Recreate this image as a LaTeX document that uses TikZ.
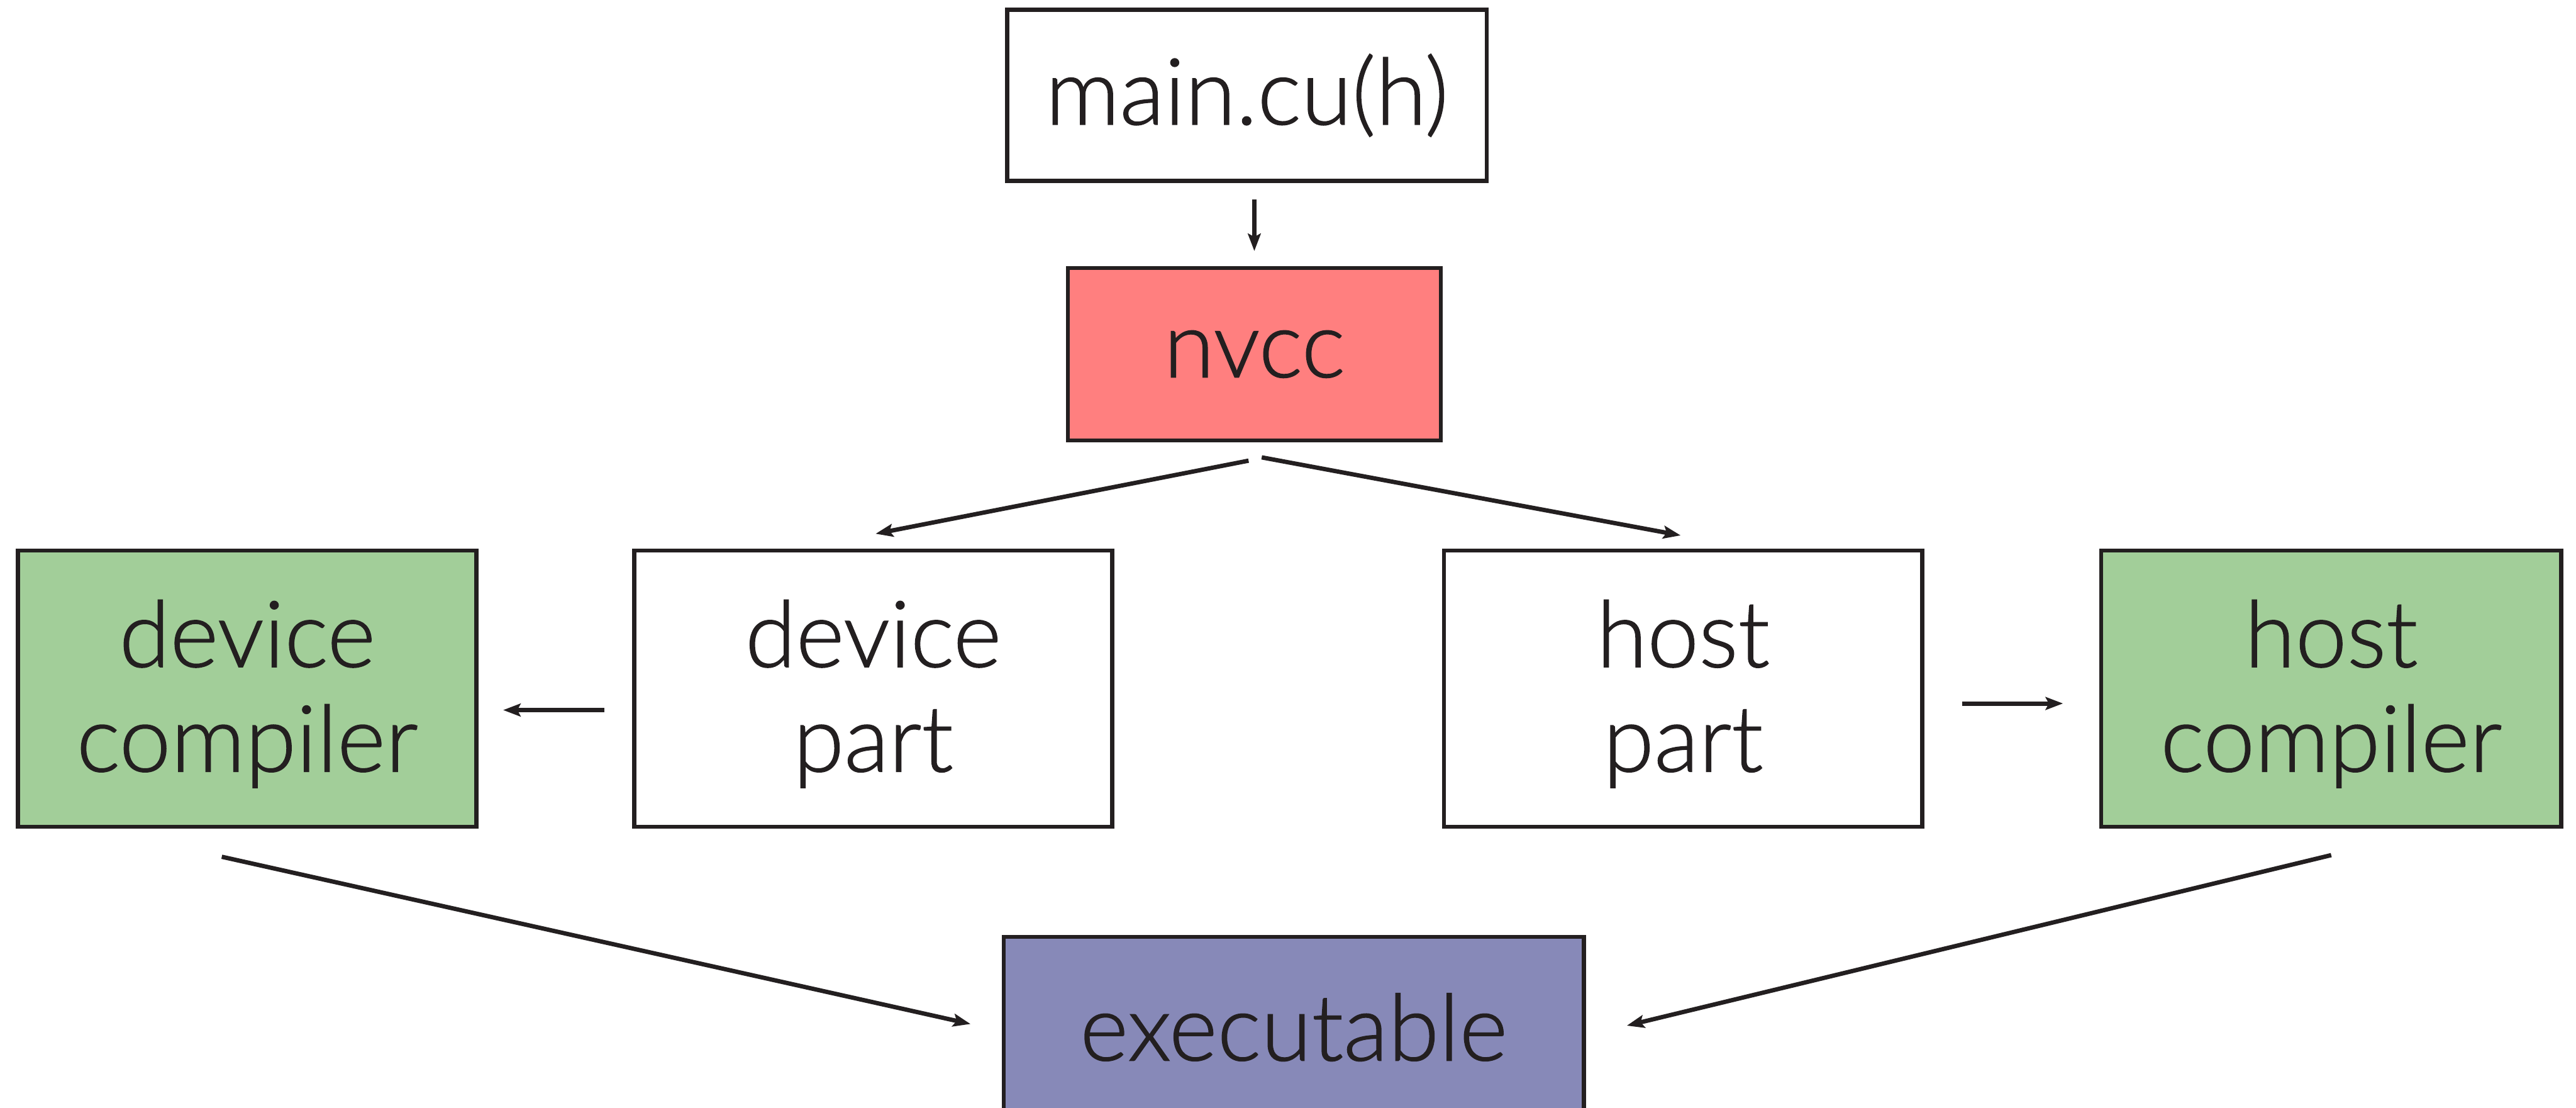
\documentclass[tikz,border=0pt]{standalone}
\usepackage{fontspec}
\setmainfont{Lato}[UprightFont={* Light}, UprightFeatures={FakeBold=1}]
\usetikzlibrary{arrows.meta}
\definecolor{ink}{HTML}{231F20}
\definecolor{nvred}{HTML}{FF7F7F}
\definecolor{compgreen}{HTML}{A2CE99}
\definecolor{exepurple}{HTML}{8789B8}
% two centred lines, set a little below the middle of their box
\newcommand\twolines[2]{\raisebox{-0.59mm}[\height][\depth]{\begin{tabular}{@{}c@{}}#1\\#2\end{tabular}}}
\begin{document}
\begin{tikzpicture}[x=0.1mm,y=-0.1mm,
  box/.style={draw=ink, line width=0.72pt, rectangle, inner sep=0pt, align=center,
    font=\fontsize{16}{18.1}\selectfont, text=ink},
  tallbox/.style={box, minimum width=29.1mm, minimum height=16.8mm},
  flow/.style={draw=ink, line width=0.75pt, -{Stealth[length=1.06mm,width=0.78mm,inset=0.2mm]}}]
\useasboundingbox (0,0) rectangle (1568,674);

% source and compiler driver
\node[box, minimum width=29.2mm, minimum height=10.4mm] (main) at (759,58) {main.cu(h)};
\node[box, fill=nvred, minimum width=22.7mm, minimum height=10.5mm] (nvcc) at (763.5,215.5) {nvcc};

% split parts and their compilers
\node[tallbox, fill=compgreen, minimum width=27.9mm] (dcomp) at (150.5,419) {\twolines{device}{compiler}};
\node[tallbox] (dpart) at (531.5,419) {\twolines{device}{part}};
\node[tallbox] (hpart) at (1024.5,419) {\twolines{host}{part}};
\node[tallbox, fill=compgreen, minimum width=28mm] (hcomp) at (1419,419) {\twolines{host}{compiler}};

% final product
\node[box, fill=exepurple, minimum width=35.3mm, minimum height=11mm] (exe) at (787.5,625) {executable};

% connectors, each leaving a small gap at both boxes
\draw[flow] ([shift={(4.5,10)}]main.south) -- ([shift={(0,-9)}]nvcc.north);
\draw[flow] ([shift={(-3.5,11)}]nvcc.south) -- ([shift={(1.5,-9)}]dpart.north);
\draw[flow] ([shift={(4.5,9)}]nvcc.south) -- ([shift={(-1.5,-8)}]hpart.north);
\draw[flow] ([shift={(-17,13)}]dpart.west) -- ([shift={(15,13)}]dcomp.east);
\draw[flow] ([shift={(23,9)}]hpart.east) -- ([shift={(-22,9)}]hcomp.west);
\draw[flow] ([shift={(-15.5,17)}]dcomp.south) -- ([shift={(-19,-2)}]exe.west);
\draw[flow] ([shift={(0,16)}]hcomp.south) -- ([shift={(25,-1)}]exe.east);
\end{tikzpicture}
\end{document}
